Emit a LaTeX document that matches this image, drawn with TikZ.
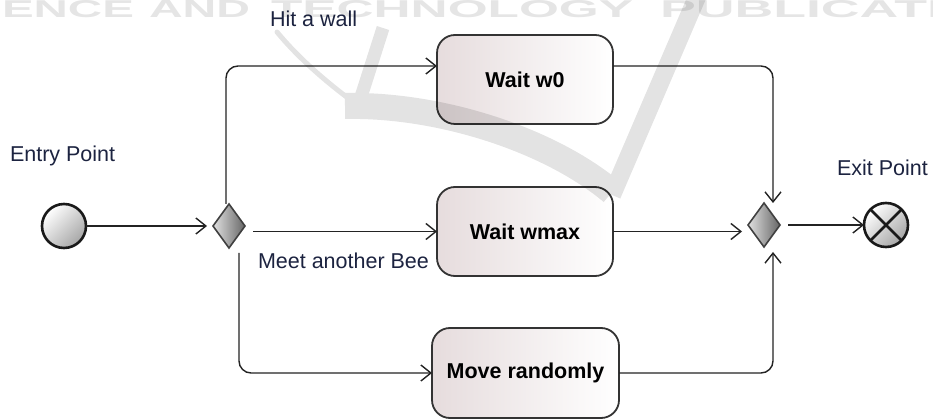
\documentclass[tikz,border=0pt]{standalone}
\usepackage{fontspec}
\setmainfont{Liberation Sans}
\usetikzlibrary{arrows.meta,shapes.geometric,calc}
\definecolor{labelc}{RGB}{28,35,64}
\definecolor{boxl}{RGB}{230,220,221}
\definecolor{linec}{RGB}{35,35,35}

\begin{document}
\begin{tikzpicture}[x=1pt,y=-1pt,
  every node/.style={inner sep=0pt, outer sep=0pt},
  flow/.style={draw=linec, line width=1.4pt, rounded corners=12pt,
    -{Straight Barb[length=10pt,width=16pt]}},
  actbox/.style={draw=black!80, line width=1.8pt, rounded corners=18pt,
    left color=boxl, right color=white,
    minimum width=176pt, minimum height=89pt,
    font=\fontsize{21.5}{26}\selectfont\bfseries},
  gate/.style={diamond, draw=black!75, line width=1.6pt,
    left color=black!12, right color=black!60,
    minimum width=32pt, minimum height=44pt},
  terminal/.style={circle, draw=black!90, line width=2.6pt,
    top color=white, bottom color=black!35, shading angle=45,
    minimum size=44pt},
  lbl/.style={text=labelc, font=\fontsize{21.5}{26}\selectfont},
  wmark/.style={anchor=south west, text=black, text opacity=0.1,
    font=\bfseries}
]
\useasboundingbox (0,0) rectangle (933,419);
\clip (0,0) rectangle (933,419);

% states and pseudo-states
\node[terminal] (entry) at (64,226) {};
\node[gate] (split) at (229,226) {};
\node[actbox] (w0) at (525,79.5) {Wait w0};
\node[actbox] (wmax) at (525,231.5) {Wait wmax};
\node[actbox, minimum width=187pt, minimum height=90pt] (move) at (525.5,373) {Move randomly};
\node[gate] (merge) at (764,225) {};
\node[terminal] (exit) at (886,225) {};
\draw[line width=2.6pt, black!90] (exit.north east) -- (exit.south west)
  (exit.north west) -- (exit.south east);

% labels
\node[lbl, anchor=base west] (entrylbl) at (10,162) {Entry Point};
\node[lbl, anchor=base west] (exitlbl) at (837,176) {Exit Point};
\node[lbl, anchor=base west] (hitlbl) at (270,27) {Hit a wall};
\node[lbl, anchor=base west] (meetlbl) at (258,269) {Meet another Bee};

% transitions
\draw[flow] (entry) -- ([xshift=-6pt]split.west);
\draw[flow] ([xshift=-3pt]split.north) |- ([yshift=13.5pt]w0.west);
\draw[flow] ([xshift=8pt]split.east |- wmax.west) -- (wmax.west);
\draw[flow] ([shift={(10pt,-5pt)}]split.south) |- (move.west);
\draw[flow] ([yshift=13.5pt]w0.east) -| ([xshift=9pt]merge.north);
\draw[flow] (wmax.east) -- ([xshift=-6pt]merge.west |- wmax.east);
\draw[flow] (move.east) -| ([shift={(9pt,-5pt)}]merge.south);
\draw[flow] ([xshift=8pt]merge.east) -- (exit.west);

% publisher watermark
\node[wmark] (wm1) at (2,18) {\resizebox{132pt}{17pt}{ENCE}};
\node[wmark] (wm2) at (149,18) {\resizebox{101pt}{17pt}{AND}};
\node[wmark] (wm3) at (271,18) {\resizebox{362pt}{17pt}{TECHNOLOGY}};
\node[wmark] (wm4) at (660,18) {\resizebox{282pt}{17pt}{PUBLICATI}};
\begin{scope}[transparency group, opacity=0.11]
  \draw[black, line width=5pt, line cap=round] (277,32) .. controls (300,60) and (330,85) .. (356,104);
  \draw[black, line width=13pt] (383,28) -- (360,100);
  \draw[black, line width=26pt] (345,106) .. controls (440,104) and (550,140) .. (612,192);
  \draw[black, line width=18pt] (700,-10) -- (612,195);
\end{scope}
\end{tikzpicture}
\end{document}
